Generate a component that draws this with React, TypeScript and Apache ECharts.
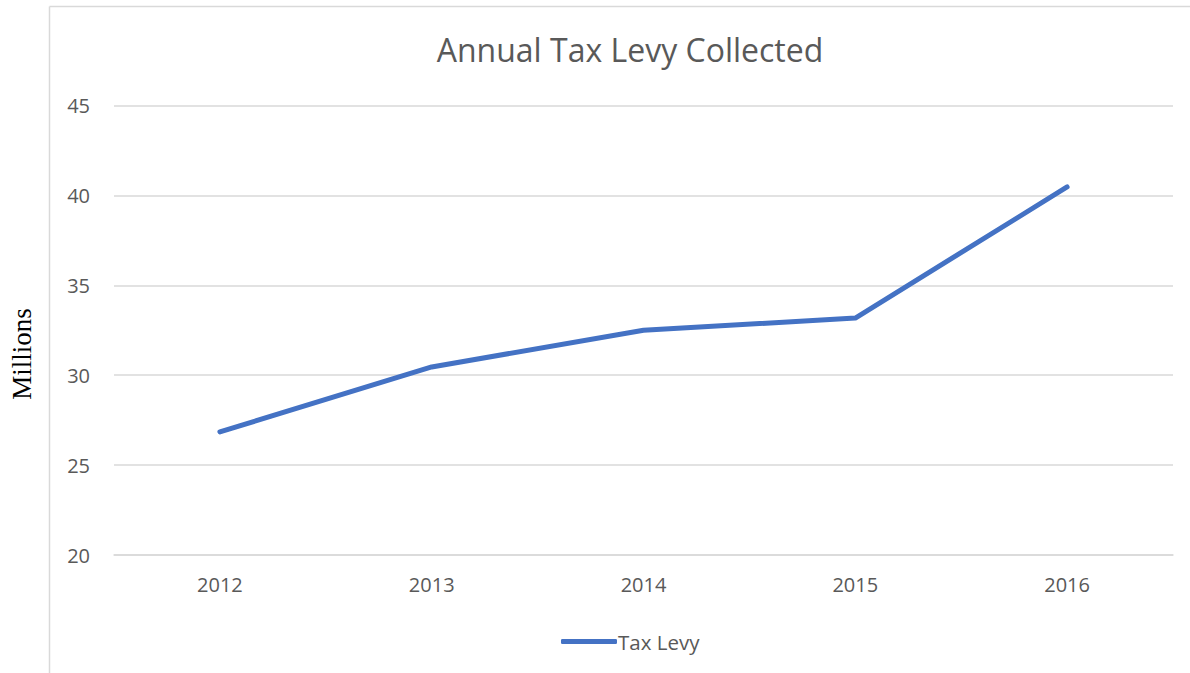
import React, { useEffect, useRef } from "react";
import * as echarts from "echarts";

const categories = ["2012", "2013", "2014", "2015", "2016"];
const taxLevy = [26.85, 30.46, 32.5, 33.18, 40.47];
const seriesName = "Tax Levy";
const titleText = "Annual Tax Levy Collected";
const yAxisName = "Millions";

export default function App() {
  const ref = useRef<HTMLDivElement>(null);
  useEffect(() => {
    if (!ref.current) return;
    const chart = echarts.init(ref.current, undefined, { renderer: "svg" });
    const font = "'Open Sans', 'Noto Sans', sans-serif";
    chart.setOption({
      animation: false,
      backgroundColor: "#ffffff",
      title: {
        text: titleText,
        left: 625,
        textAlign: "center",
        top: 28,
        textStyle: { fontFamily: font, fontSize: 32, fontWeight: "normal", color: "#595959" },
      },
      grid: { left: 114, right: 17, top: 105.5, bottom: 118 },
      legend: {
        data: [seriesName],
        left: 556,
        top: 626,
        icon: "roundRect",
        itemWidth: 56,
        itemHeight: 5,
        itemGap: 4,
        textStyle: { fontFamily: font, fontSize: 20.5, color: "#595959", padding: [0, 0, 0, -4] },
      },
      xAxis: {
        type: "category",
        data: categories,
        boundaryGap: true,
        axisLine: { show: true, lineStyle: { color: "#d9d9d9", width: 1.5 } },
        axisTick: { show: false },
        axisLabel: { fontFamily: font, fontSize: 20, color: "#595959", margin: 19 },
        splitLine: { show: false },
      },
      yAxis: {
        type: "value",
        min: 20,
        max: 45,
        interval: 5,
        axisLine: { show: false },
        axisTick: { show: false },
        axisLabel: { fontFamily: font, fontSize: 20, color: "#595959", margin: 24 },
        splitLine: { show: true, lineStyle: { color: "#d9d9d9", width: 1.5 } },
      },
      graphic: [
        {
          type: "line",
          shape: { x1: 49.5, y1: 6.5, x2: 1190, y2: 6.5 },
          style: { stroke: "#d9d9d9", lineWidth: 1.5 },
        },
        {
          type: "line",
          shape: { x1: 49.5, y1: 6.5, x2: 49.5, y2: 673 },
          style: { stroke: "#d9d9d9", lineWidth: 1.5 },
        },
        {
          type: "text",
          x: 22,
          y: 354,
          rotation: Math.PI / 2,
          style: {
            text: yAxisName,
            fontFamily: "'Liberation Serif', 'DejaVu Serif', serif",
            fontSize: 27,
            fill: "#000000",
            align: "center",
            verticalAlign: "middle",
          },
        },
      ],
      series: [
        {
          name: seriesName,
          type: "line",
          data: taxLevy,
          showSymbol: false,
          symbol: "none",
          lineStyle: { color: "#4472C4", width: 5, cap: "round", join: "round" },
          itemStyle: { color: "#4472C4" },
        },
      ],
    });
    return () => chart.dispose();
  }, []);
  return (
    <div
      ref={ref}
      style={{ position: "fixed", left: 0, top: 0, width: 1190, height: 673 }}
    />
  );
}
